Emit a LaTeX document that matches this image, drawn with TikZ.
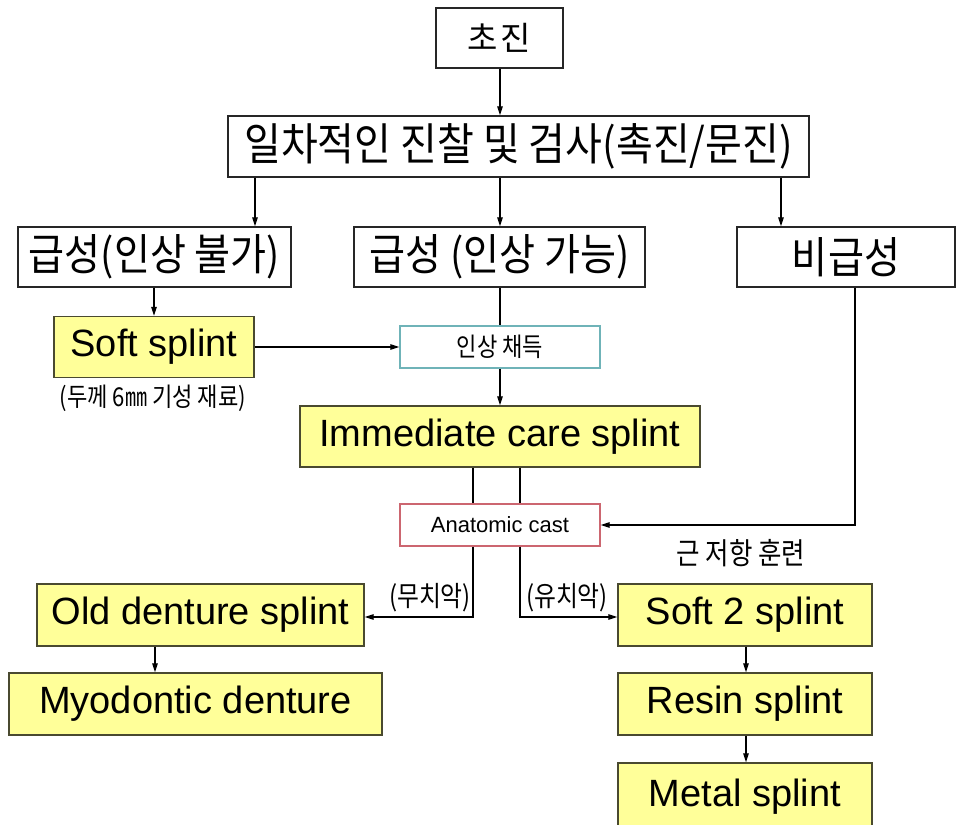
\documentclass[tikz,border=0pt]{standalone}
\usepackage{fontspec}
\setmainfont{Liberation Sans}
\newfontfamily\kr[FakeStretch=0.85]{Noto Sans CJK KR}
\newfontfamily\krb[FakeStretch=0.9]{Noto Sans CJK KR}
\newfontfamily\krw{Noto Sans CJK KR}
\usetikzlibrary{arrows.meta}
\definecolor{ylw}{HTML}{FFFF99}
\definecolor{ybord}{HTML}{4A4A30}
\definecolor{cyanb}{HTML}{6FB3B8}
\definecolor{redb}{HTML}{CC6670}
\begin{document}
\begin{tikzpicture}[x=1pt,y=-1pt,
  box/.style={draw=black!85,line width=1.3pt,fill=white,inner sep=0pt,minimum height=60pt,font=\krb\fontsize{43.5}{43.5}\selectfont},
  ybox/.style={draw=ybord,line width=1.3pt,fill=ylw,inner sep=0pt,minimum height=61pt,font=\fontsize{38}{38}\selectfont},
  sbox/.style={line width=1.3pt,fill=white,inner sep=0pt,minimum width=200pt,minimum height=42pt},
  arr/.style={line width=1.2pt,-{Triangle[length=9pt,width=5.5pt]}},
  ln/.style={line width=1.2pt},
  lbl/.style={inner sep=0pt,font=\kr\fontsize{26}{26}\selectfont}]
\useasboundingbox (0,0) rectangle (965,824);
\fill[white] (0,0) rectangle (965,824);
% nodes
\node[box,minimum width=127pt,font=\krw\fontsize{33}{33}\selectfont] (chojin) at (499.5,38) {초\hspace{3pt}진};
\node[box,minimum width=581pt,minimum height=61pt,font=\krb\fontsize{44.5}{44.5}\selectfont] (exam) at (518.5,146.5) {일차적인 진찰 및 검사(촉진/문진)};
\node[box,minimum width=273pt] (acute1) at (154.5,257) {급성(인상 불가)};
\node[box,minimum width=291pt] (acute2) at (499.5,257) {급성 (인상 가능)};
\node[box,minimum width=218pt] (nonacute) at (846,257) {비급성};
\node[ybox,minimum width=200pt] (soft) at (154,347) {Soft splint};
\node[sbox,draw=cyanb,font=\kr\fontsize{26}{26}\selectfont] (imp) at (500,347) {인상 채득};
\node[ybox,minimum width=400pt] (imm) at (500,436.5) {Immediate care splint};
\node[sbox,draw=redb,font=\fontsize{22}{22}\selectfont] (cast) at (500,525) {Anatomic cast};
\node[ybox,minimum width=327pt,minimum height=62pt] (old) at (200.5,615) {Old denture splint};
\node[ybox,minimum width=254pt,minimum height=62pt] (soft2) at (745,615) {Soft 2 splint};
\node[ybox,minimum width=373pt,minimum height=62pt] (myo) at (195.5,704) {Myodontic denture};
\node[ybox,minimum width=254pt,minimum height=62pt] (resin) at (745,704) {Resin splint};
\node[ybox,minimum width=254pt,minimum height=68pt] (metal) at (745,797) {Metal splint};
% labels
\node[lbl] (thick) at (153,398) {(두께 6㎜ 기성 재료)};
\node[lbl,font=\kr\fontsize{30}{30}\selectfont] (muscle) at (741,553) {근 저항 훈련};
\node[lbl,font=\kr\fontsize{28}{28}\selectfont] (mu) at (430,598) {(무치악)};
\node[lbl,font=\kr\fontsize{28}{28}\selectfont] (yu) at (567,598) {(유치악)};
% helper coordinates
\coordinate (x1) at (255,0);
\coordinate (x2) at (500,0);
\coordinate (x3) at (781,0);
\coordinate (x4) at (154,0);
\coordinate (xl) at (473,0);
\coordinate (xr) at (520,0);
\coordinate (xn) at (855,0);
\coordinate (xo) at (155,0);
\coordinate (xs) at (746,0);
\coordinate (yb) at (0,617);
% connectors
\draw[arr] (chojin.south -| x2) -- (exam.north -| x2);
\draw[arr] (exam.south -| x1) -- (acute1.north -| x1);
\draw[arr] (exam.south -| x2) -- (acute2.north -| x2);
\draw[arr] (exam.south -| x3) -- (nonacute.north -| x3);
\draw[arr] (acute1.south -| x4) -- (soft.north -| x4);
\draw[arr] (soft.east) -- (imp.west);
\draw[ln] (acute2.south -| x2) -- (imp.north -| x2);
\draw[arr] (imp.south) -- (imm.north);
\draw[ln] (imm.south -| xl) -- (cast.north -| xl);
\draw[ln] (imm.south -| xr) -- (cast.north -| xr);
\draw[arr] (nonacute.south -| xn) |- (cast.east);
\draw[arr] (cast.south -| xl) -- (xl |- yb) -- (old.east |- yb);
\draw[arr] (cast.south -| xr) -- (xr |- yb) -- (soft2.west |- yb);
\draw[arr] (old.south -| xo) -- (myo.north -| xo);
\draw[arr] (soft2.south -| xs) -- (resin.north -| xs);
\draw[arr] (resin.south -| xs) -- (metal.north -| xs);
\end{tikzpicture}
\end{document}
